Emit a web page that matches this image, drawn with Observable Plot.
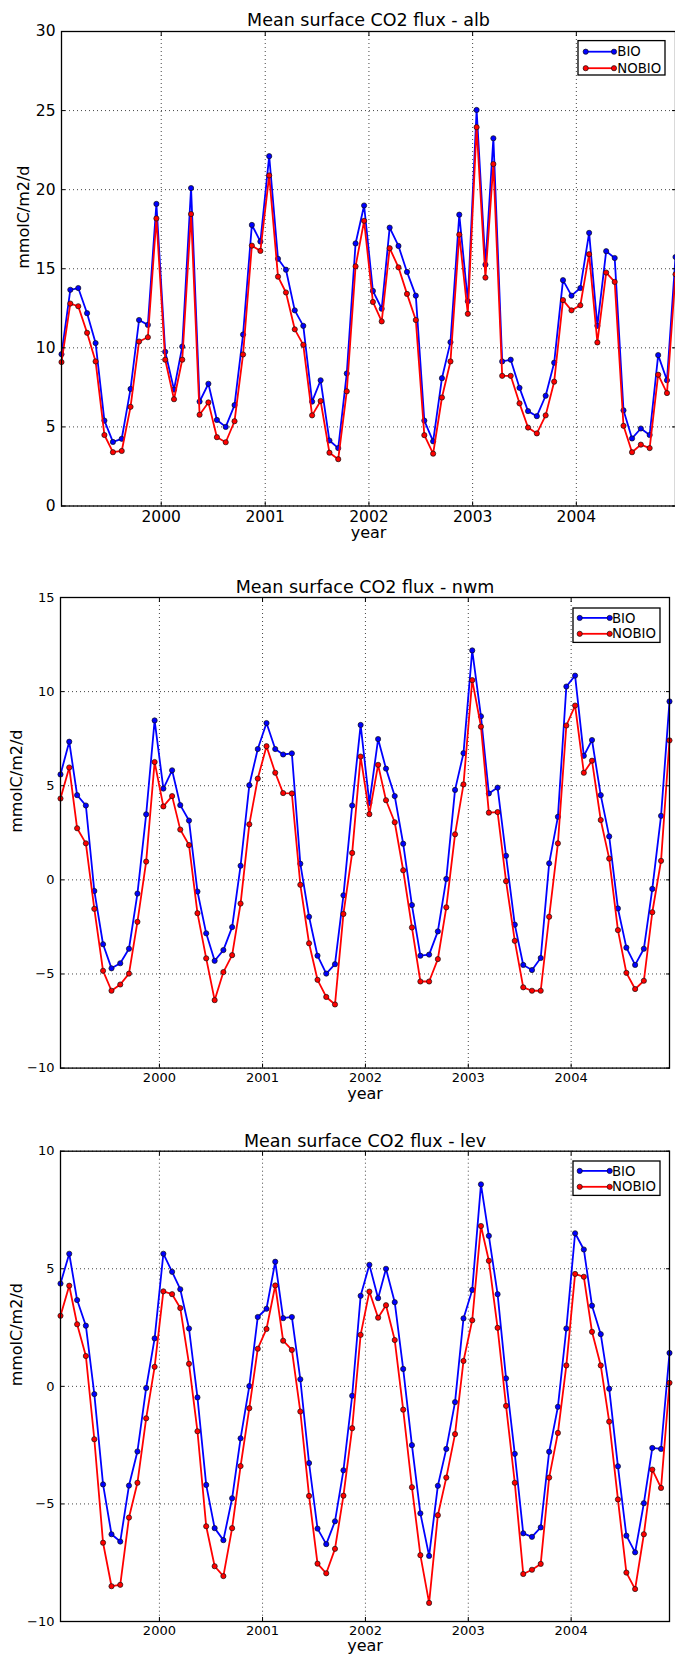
<!DOCTYPE html>
<html><head><meta charset="utf-8">
<script src="https://cdn.jsdelivr.net/npm/d3@7"></script>
<script src="https://cdn.jsdelivr.net/npm/@observablehq/plot@0.6"></script>
<style>
html,body{margin:0;padding:0;background:#fff;}
#charts svg{display:block;}
</style></head><body><div id="charts"></div>
<script>
const startYear = 1999;
const yearTicks = [2000, 2001, 2002, 2003, 2004];
const seriesNames = ["BIO", "NOBIO"];
const seriesColors = ["#0000ff", "#ff0000"];
const xLabel = "year";
const yLabel = "mmolC/m2/d";

const albBio = [9.6, 13.67, 13.78, 12.19, 10.3, 5.4, 4.05, 4.25, 7.4, 11.76, 11.45, 19.1,
  9.75, 7.36, 10.08, 20.1, 6.6, 7.73, 5.44, 5.0, 6.38, 10.84, 17.77, 16.72,
  22.12, 15.63, 14.94, 12.37, 11.39, 6.6, 7.95, 4.14, 3.66, 8.38, 16.6, 19.0,
  13.6, 12.47, 17.6, 16.44, 14.8, 13.3, 5.4, 4.09, 8.08, 10.36, 18.42, 12.95,
  25.04, 15.26, 23.25, 9.14, 9.25, 7.47, 6.0, 5.68, 6.97, 9.06, 14.28, 13.3,
  13.78, 17.27, 11.39, 16.11, 15.68, 6.05, 4.27, 4.9, 4.49, 9.54, 7.95, 15.74];
const albNobio = [9.1, 12.8, 12.63, 10.95, 9.14, 4.49, 3.4, 3.48, 6.27, 10.4, 10.67, 18.18,
  9.25, 6.75, 9.25, 18.46, 5.77, 6.55, 4.35, 4.03, 5.36, 9.58, 16.46, 16.13,
  20.9, 14.5, 13.5, 11.17, 10.19, 5.73, 6.64, 3.37, 2.96, 7.25, 15.15, 18.03,
  12.9, 11.67, 16.3, 15.09, 13.41, 11.76, 4.48, 3.31, 6.86, 9.14, 17.16, 12.15,
  23.95, 14.44, 21.62, 8.23, 8.23, 6.49, 4.96, 4.59, 5.73, 7.86, 13.02, 12.37,
  12.69, 15.92, 10.34, 14.76, 14.17, 5.07, 3.4, 3.88, 3.66, 8.3, 7.14, 14.65];

const nwmBio = [5.6, 7.34, 4.5, 3.95, -0.59, -3.42, -4.7, -4.43, -3.66, -0.73, 3.48, 8.47,
  4.85, 5.82, 3.97, 3.15, -0.62, -2.84, -4.3, -3.73, -2.51, 0.75, 5.03, 6.95,
  8.33, 6.95, 6.66, 6.72, 0.86, -1.96, -4.03, -4.98, -4.48, -0.82, 3.95, 8.23,
  4.08, 7.48, 5.91, 4.45, 1.92, -1.34, -4.03, -3.97, -2.74, 0.05, 4.78, 6.73,
  12.19, 8.69, 4.59, 4.9, 1.28, -2.38, -4.52, -4.79, -4.15, 0.88, 3.35, 10.27,
  10.85, 6.59, 7.43, 4.5, 2.31, -1.52, -3.6, -4.52, -3.66, -0.48, 3.4, 9.48];
const nwmNobio = [4.32, 5.97, 2.74, 1.94, -1.54, -4.83, -5.89, -5.56, -4.98, -2.23, 0.97, 6.26,
  3.9, 4.45, 2.67, 1.85, -1.77, -4.17, -6.39, -4.9, -4.0, -1.26, 2.95, 5.38,
  7.1, 5.69, 4.61, 4.59, -0.26, -3.37, -5.31, -6.22, -6.62, -1.81, 1.43, 6.55,
  3.49, 6.11, 4.23, 3.06, 0.51, -2.53, -5.4, -5.4, -4.21, -1.46, 2.42, 5.07,
  10.61, 8.14, 3.57, 3.6, -0.07, -3.24, -5.71, -5.89, -5.89, -1.96, 1.94, 8.2,
  9.26, 5.69, 6.33, 3.18, 1.13, -2.67, -4.94, -5.8, -5.36, -1.72, 1.01, 7.41];

const levBio = [4.37, 5.64, 3.67, 2.58, -0.33, -4.17, -6.29, -6.6, -4.22, -2.77, -0.07, 2.04,
  5.64, 4.87, 4.13, 2.46, -0.47, -4.19, -6.03, -6.54, -4.76, -2.21, 0.01, 2.95,
  3.3, 5.3, 2.9, 2.95, 0.3, -3.26, -6.05, -6.71, -5.74, -3.57, -0.4, 3.85,
  5.17, 3.75, 5.0, 3.58, 0.74, -2.5, -5.4, -7.21, -4.23, -2.66, -0.67, 2.89,
  4.1, 8.59, 6.4, 3.92, 0.34, -2.87, -6.25, -6.4, -6.0, -2.78, -0.87, 2.46,
  6.51, 5.82, 3.43, 2.22, -0.1, -3.4, -6.35, -7.06, -4.97, -2.62, -2.66, 1.42];
const levNobio = [3.0, 4.28, 2.64, 1.29, -2.25, -6.65, -8.5, -8.44, -5.58, -4.1, -1.36, 0.83,
  4.04, 3.92, 3.33, 0.96, -1.91, -5.95, -7.65, -8.07, -6.03, -3.39, -0.93, 1.6,
  2.44, 4.29, 1.94, 1.55, -1.07, -4.66, -7.54, -7.95, -6.91, -4.65, -1.78, 2.19,
  4.03, 2.92, 3.45, 1.97, -0.99, -4.29, -7.18, -9.21, -5.48, -3.88, -2.03, 1.08,
  2.81, 6.82, 5.34, 2.49, -0.83, -4.1, -7.98, -7.8, -7.55, -3.88, -1.98, 0.89,
  4.78, 4.66, 2.32, 0.89, -1.5, -4.81, -7.92, -8.62, -6.29, -3.54, -4.32, 0.15];

const albTicks = [0, 5, 10, 15, 20, 25, 30];
const nwmTicks = [-10, -5, 0, 5, 10, 15];
const levTicks = [-10, -5, 0, 5, 10];

const panels = [
  {title: "Mean surface CO2 flux - alb", series: [albBio, albNobio], yTicks: albTicks,
   height: 545, mt: 31, mb: 39.5, ml: 61, mr: 0, tickFont: 15.5, tickPad: 5, titleDy: -18, xLabelDy: 32, yLabelDx: -38,
   legTop: 9.6, legRight: 10, rowA: 11.1, rowB: 27.6, legPad: 7.7, legLine: 28.3, legText: 40.3},
  {title: "Mean surface CO2 flux - nwm", series: [nwmBio, nwmNobio], yTicks: nwmTicks,
   height: 560, mt: 52, mb: 37.4, ml: 60, mr: 6, tickFont: 13, tickPad: 5, titleDy: -17, xLabelDy: 30.5, yLabelDx: -44,
   legTop: 11, legRight: 9, rowA: 9.9, rowB: 25.8, legPad: 6.7, legLine: 30, legText: 40},
  {title: "Mean surface CO2 flux - lev", series: [levBio, levNobio], yTicks: levTicks,
   height: 551, mt: 45.7, mb: 35, ml: 60, mr: 6, tickFont: 13, tickPad: 4, titleDy: -17, xLabelDy: 29.5, yLabelDx: -44,
   legTop: 10.3, legRight: 9, rowA: 9.9, rowB: 25.8, legPad: 6.7, legLine: 30, legText: 40}
];

const monthDate = i => new Date(Date.UTC(startYear + Math.floor(i / 12), i % 12, 15));
const xTicks = yearTicks.map(y => new Date(Date.UTC(y, 0, 1)));
const W = 675;

for (const p of panels) {
  const n = p.series[0].length;
  const xDomain = [monthDate(0), monthDate(n - 1)];
  const yDomain = [p.yTicks[0], p.yTicks[p.yTicks.length - 1]];
  const rows = [];
  p.series.forEach((vals, s) => vals.forEach((v, i) => rows.push({date: monthDate(i), value: v, name: seriesNames[s]})));
  const grid = {stroke: "#444", strokeOpacity: 1, strokeWidth: 1, strokeDasharray: "1,3"};
  const marks = [
    Plot.gridX(xTicks, grid),
    Plot.gridY(p.yTicks, grid)
  ];
  seriesNames.forEach((nm, s) => {
    const d = rows.filter(r => r.name === nm);
    marks.push(Plot.line(d, {x: "date", y: "value", stroke: seriesColors[s], strokeWidth: 1.8}));
    marks.push(Plot.dot(d, {x: "date", y: "value", r: 2.6, fill: seriesColors[s], stroke: "#111", strokeWidth: 0.7}));
  });
  marks.push(
    Plot.frame({stroke: "#000", strokeWidth: 1.3}),
    Plot.axisX(xTicks, {anchor: "bottom", tickSize: 0, tickPadding: p.tickPad, tickFormat: d => String(d.getUTCFullYear()), fontSize: p.tickFont, label: null}),
    Plot.axisX(xTicks, {anchor: "bottom", tickSize: -4, tickFormat: () => "", label: null}),
    Plot.axisX(xTicks, {anchor: "top", tickSize: -4, tickFormat: () => "", label: null}),
    Plot.axisY(p.yTicks, {anchor: "left", tickSize: 0, tickPadding: 6, fontSize: p.tickFont, label: null}),
    Plot.axisY(p.yTicks, {anchor: "left", tickSize: -4, tickFormat: () => "", label: null}),
    Plot.axisY(p.yTicks, {anchor: "right", tickSize: -4, tickFormat: () => "", label: null}),
    Plot.text([p.title], {frameAnchor: "top", dy: p.titleDy, text: d => d, fontSize: 17.5, fill: "#000"}),
    Plot.text([xLabel], {frameAnchor: "bottom", dy: p.xLabelDy, text: d => d, fontSize: 16, fill: "#000"}),
    Plot.text([yLabel], {frameAnchor: "left", dx: p.yLabelDx, rotate: -90, text: d => d, fontSize: 16, fill: "#000"})
  );
  const svg = Plot.plot({
    width: W, height: p.height,
    marginTop: p.mt, marginBottom: p.mb, marginLeft: p.ml, marginRight: p.mr,
    style: {fontFamily: "'DejaVu Sans', sans-serif", fontSize: "13px", background: "#fff", color: "#000", overflow: "visible"},
    x: {type: "utc", domain: xDomain},
    y: {domain: yDomain},
    marks
  });
  // legend (matplotlib style box, upper right)
  const boxW = 87, boxH = 34.4;
  const bx = W - p.mr - p.legRight - boxW, by = p.mt + p.legTop;
  const g = d3.select(svg).append("g").attr("font-family", "'DejaVu Sans', sans-serif").attr("text-anchor", "start");
  g.append("rect").attr("x", bx).attr("y", by).attr("width", boxW).attr("height", boxH)
    .attr("fill", "#fff").attr("stroke", "#000").attr("stroke-width", 1.3);
  [p.rowA, p.rowB].forEach((ry, s) => {
    const y = by + ry, x0 = bx + p.legPad, x1 = x0 + p.legLine;
    g.append("line").attr("x1", x0).attr("x2", x1).attr("y1", y).attr("y2", y)
      .attr("stroke", seriesColors[s]).attr("stroke-width", 1.8);
    [x0, x1].forEach(cx => g.append("circle").attr("cx", cx).attr("cy", y).attr("r", 2.6)
      .attr("fill", seriesColors[s]).attr("stroke", "#111").attr("stroke-width", 0.7));
    g.append("text").attr("x", bx + p.legText - 1).attr("y", y).attr("dy", "0.35em")
      .attr("text-anchor", "start").attr("font-size", 13.3).attr("fill", "#000").text(seriesNames[s]);
  });
  document.getElementById("charts").appendChild(svg);
}
</script>
</body></html>
